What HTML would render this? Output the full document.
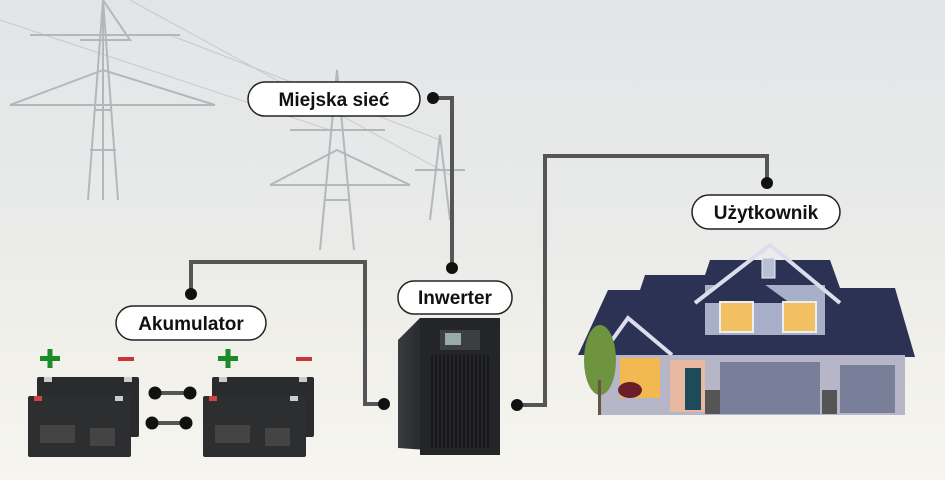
<!DOCTYPE html>
<html><head><meta charset="utf-8"><style>
html,body{margin:0;padding:0;width:945px;height:480px;overflow:hidden}
text{font-family:"Liberation Sans",sans-serif}
</style></head><body>
<svg width="945" height="480" viewBox="0 0 945 480" xmlns="http://www.w3.org/2000/svg">
<defs>
<linearGradient id="bg" x1="0" y1="0" x2="0" y2="1">
<stop offset="0" stop-color="#e2e5e8"/><stop offset="0.45" stop-color="#e9eae9"/><stop offset="0.75" stop-color="#f1f0ea"/><stop offset="1" stop-color="#f6f5f0"/>
</linearGradient>
<linearGradient id="inv" x1="0" y1="0" x2="1" y2="0">
<stop offset="0" stop-color="#3a3c40"/><stop offset="0.2" stop-color="#2a2c2f"/><stop offset="1" stop-color="#1e1f22"/>
</linearGradient>
</defs>
<rect width="945" height="480" fill="url(#bg)"/>
<!-- towers -->
<g stroke="#a4a7ab" stroke-width="2" fill="none" opacity="0.75">
<path d="M88 200 L103 0 L118 200 M95 110 L112 110 M80 40 L130 40 L103 0 M30 35 L180 35 M10 105 L215 105 L103 70 L10 105"/>
<path d="M103 0 L103 200 M90 150 L116 150"/>
<path d="M320 250 L337 70 L354 250 M290 130 L385 130 M270 185 L410 185 L337 150 L270 185 M325 200 L350 200"/>
<path d="M430 220 L440 135 L450 220 M415 170 L465 170"/>
<path d="M0 20 L330 130 M130 0 L450 175 M170 35 L440 140" stroke-width="1" opacity="0.6"/>
</g>
<!-- connectors -->
<g stroke="#555" stroke-width="4" fill="none">
<path d="M433 98 H452 V268"/>
<path d="M191 294 V262 H365 V404 H384"/>
<path d="M517 405 H545 V156 H767 V183"/>
<path d="M155 393 H190 M152 423 H186"/>
</g>
<g fill="#111">
<circle cx="433" cy="98" r="6"/><circle cx="452" cy="268" r="6"/>
<circle cx="191" cy="294" r="6"/><circle cx="384" cy="404" r="6"/>
<circle cx="517" cy="405" r="6"/><circle cx="767" cy="183" r="6"/>
<circle cx="155" cy="393" r="6.5"/><circle cx="190" cy="393" r="6.5"/>
<circle cx="152" cy="423" r="6.5"/><circle cx="186" cy="423" r="6.5"/>
</g>
<!-- labels -->
<g stroke="#222" stroke-width="1.5" fill="#fff">
<rect x="248" y="82" width="172" height="34" rx="17"/>
<rect x="398" y="281" width="114" height="33" rx="16"/>
<rect x="116" y="306" width="150" height="34" rx="17"/>
<rect x="692" y="195" width="148" height="34" rx="17"/>
</g>
<g font-size="19" font-weight="bold" fill="#111" text-anchor="middle">
<text x="334" y="106">Miejska sieć</text>
<text x="455" y="304">Inwerter</text>
<text x="191" y="330">Akumulator</text>
<text x="766" y="219">Użytkownik</text>
</g>
<!-- batteries -->
<g>
<g id="b1">
<rect x="37" y="377" width="102" height="60" rx="2" fill="#2a2b2d"/>
<rect x="44" y="377" width="8" height="5" fill="#ccc"/><rect x="124" y="377" width="8" height="5" fill="#ccc"/>
<rect x="28" y="396" width="103" height="61" rx="2" fill="#2d2e30"/>
<rect x="34" y="396" width="8" height="5" fill="#c44"/><rect x="115" y="396" width="8" height="5" fill="#ccc"/>
<rect x="40" y="425" width="35" height="18" fill="#444"/><rect x="90" y="428" width="25" height="18" fill="#444"/>
</g>
<use href="#b1" x="175"/>
<g fill="#1a8a2a"><rect x="40" y="356" width="20" height="5"/><rect x="47.5" y="349" width="5" height="19"/>
<rect x="218" y="356" width="20" height="5"/><rect x="225.5" y="349" width="5" height="19"/></g>
<g fill="#c33"><rect x="118" y="357" width="16" height="4"/><rect x="296" y="357" width="16" height="4"/></g>
</g>
<!-- inverter -->
<path d="M398 340 L420 318 L500 318 L500 455 L398 448 Z" fill="url(#inv)"/>
<rect x="420" y="318" width="80" height="137" fill="#242528"/>
<rect x="440" y="330" width="40" height="20" fill="#3c3e42"/>
<rect x="445" y="333" width="16" height="12" fill="#9aa"/>
<g stroke="#111" stroke-width="1.2">
<path d="M432 355 V448 M436 355 V448 M440 355 V448 M444 355 V448 M448 355 V448 M452 355 V448 M456 355 V448 M460 355 V448 M464 355 V448 M468 355 V448 M472 355 V448 M476 355 V448 M480 355 V448 M484 355 V448 M488 355 V448"/>
</g>
<!-- house -->
<g>
<path d="M578 355 L608 290 L640 290 L645 275 L705 275 L710 260 L830 260 L840 288 L895 288 L915 357 Z" fill="#2c3254"/>
<rect x="705" y="285" width="120" height="50" fill="#a8afc8"/>
<path d="M695 303 L742 268 L790 303 Z" fill="#2c3254"/>
<path d="M695 303 L770 245 L840 303" stroke="#dde" stroke-width="4" fill="none"/>
<rect x="762" y="258" width="13" height="20" fill="#b9c0d6" stroke="#eee"/>
<rect x="720" y="302" width="33" height="30" fill="#f2c060" stroke="#eee" stroke-width="2"/>
<rect x="783" y="302" width="33" height="30" fill="#f2c060" stroke="#eee" stroke-width="2"/>
<path d="M605 350 L628 318 L672 355" stroke="#dde" stroke-width="4" fill="none"/>
<rect x="600" y="355" width="305" height="60" fill="#b6b6c8"/>
<rect x="620" y="358" width="40" height="40" fill="#f3b950"/>
<rect x="670" y="360" width="35" height="52" fill="#e8b9a0"/>
<rect x="685" y="368" width="16" height="42" fill="#1f4a5a"/>
<rect x="720" y="362" width="100" height="52" fill="#7a7f99"/>
<rect x="840" y="365" width="55" height="48" fill="#7a7f99"/>
<rect x="705" y="390" width="15" height="24" fill="#555"/><rect x="822" y="390" width="15" height="24" fill="#555"/>
<ellipse cx="600" cy="360" rx="16" ry="35" fill="#6f9440"/>
<rect x="598" y="380" width="3" height="35" fill="#654"/>
<ellipse cx="630" cy="390" rx="12" ry="8" fill="#6a1e2a"/>
</g>
</svg>
</body></html>
